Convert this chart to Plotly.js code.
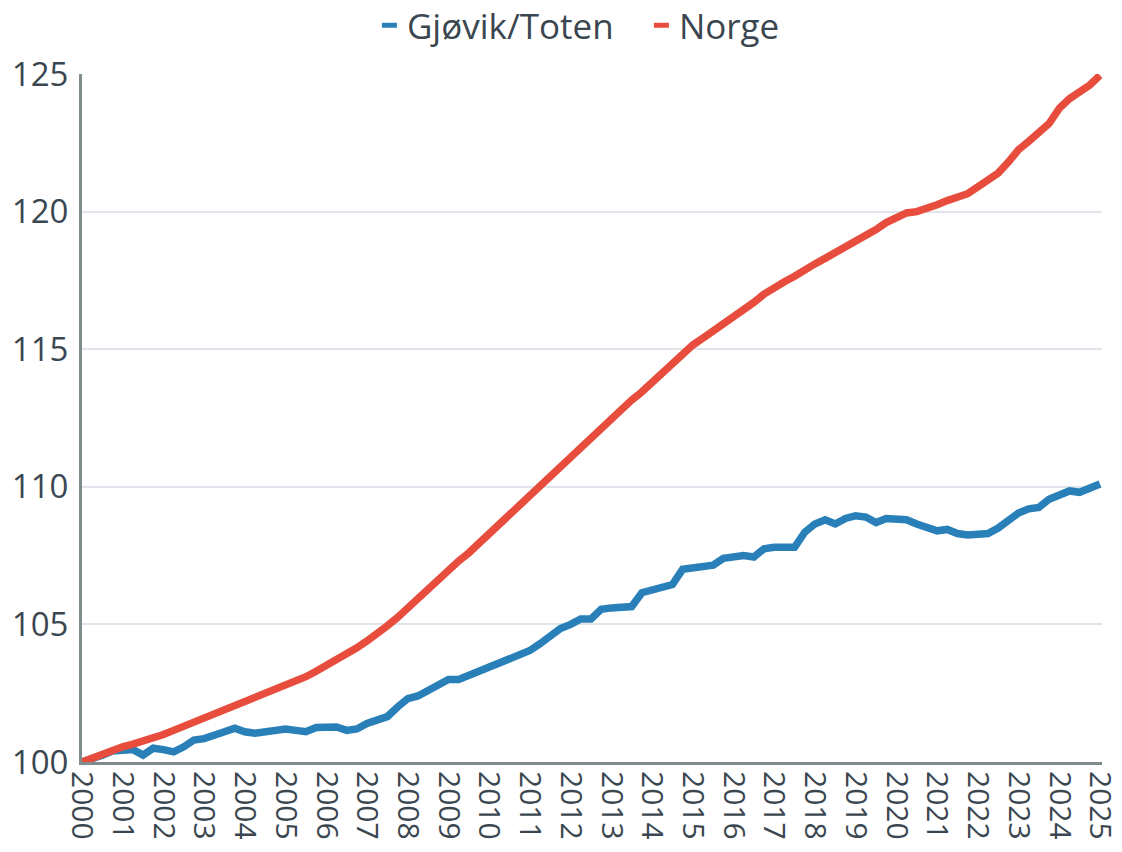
<!DOCTYPE html>
<html>
<head>
<meta charset="utf-8">
<script src="https://cdn.plot.ly/plotly-3.0.1.min.js"></script>
<style>
  html, body { margin: 0; padding: 0; background: #ffffff; }
  #chart { width: 1122px; height: 852px; }
</style>
</head>
<body>
<div id="chart"></div>
<script>
// Quarterly index, 2000 = 100 (2000Q1 .. 2025Q1)
const startYear = 2000;
const endYear = 2025;

const gjovikToten = [
  100.0, 100.1, 100.25, 100.4,
  100.45, 100.45, 100.25, 100.5,
  100.45, 100.37, 100.55, 100.8,
  100.85, 100.95, 101.1, 101.23,
  101.1, 101.05, 101.1, 101.2,
  101.2, 101.15, 101.1, 101.25,
  101.27, 101.27, 101.15, 101.2,
  101.4, 101.55, 101.65, 102.0,
  102.3, 102.4, 102.6, 102.8,
  103.0, 103.0, 103.15, 103.35,
  103.5, 103.6, 103.75, 103.9,
  104.05, 104.3, 104.55, 104.85,
  105.0, 105.2, 105.2, 105.55,
  105.6, 105.6, 105.65, 106.15,
  106.25, 106.35, 106.45, 107.0,
  107.05, 107.15, 107.15, 107.4,
  107.45, 107.5, 107.45, 107.75,
  107.8, 107.8, 107.8, 108.35,
  108.65, 108.8, 108.65, 108.85,
  108.95, 108.9, 108.7, 108.85,
  108.85, 108.8, 108.65, 108.5,
  108.4, 108.45, 108.3, 108.25,
  108.25, 108.3, 108.5, 108.8,
  109.05, 109.2, 109.25, 109.55,
  109.7, 109.85, 109.8, 109.95,
  110.1
];

const norge = [
  100.0, 100.15, 100.3, 100.45,
  100.55, 100.65, 100.75, 100.9,
  101.0, 101.15, 101.3, 101.45,
  101.6, 101.75, 101.9, 102.05,
  102.15, 102.3, 102.45, 102.6,
  102.75, 102.9, 103.1, 103.3,
  103.5, 103.7, 103.95, 104.15,
  104.4, 104.65, 104.95, 105.25,
  105.6, 105.95, 106.3, 106.65,
  107.0, 107.3, 107.6, 107.95,
  108.25, 108.6, 108.95, 109.3,
  109.65, 110.0, 110.35, 110.75,
  111.1, 111.45, 111.8, 112.15,
  112.5, 112.8, 113.15, 113.45,
  113.8, 114.15, 114.45, 114.8,
  115.15, 115.4, 115.65, 115.95,
  116.2, 116.45, 116.7, 117.0,
  117.25, 117.45, 117.65, 117.9,
  118.1, 118.3, 118.5, 118.75,
  118.95, 119.15, 119.35, 119.6,
  119.8, 119.95, 120.0, 120.1,
  120.25, 120.4, 120.55, 120.65,
  120.9, 121.15, 121.4, 121.8,
  122.25, 122.55, 122.9, 123.2,
  123.75, 124.1, 124.35, 124.6,
  124.95
];

const seriesNames = ["Gjøvik/Toten", "Norge"];
const tickYears = [];
for (let y = startYear; y <= endYear; y++) tickYears.push(y);
const tickLabels = tickYears.map(String);
const yTicks = [100, 105, 110, 115, 120, 125];

const quarters = gjovikToten.map((_, i) => startYear + i * 0.25);

const textColor = "#3a4750";
const fam = "Open Sans, Noto Sans, sans-serif";

const traces = [
  {
    x: quarters, y: gjovikToten, name: seriesNames[0], type: "scatter", mode: "lines",
    line: { color: "#2980b9", width: 7.5 }
  },
  {
    x: quarters, y: norge, name: seriesNames[1], type: "scatter", mode: "lines",
    line: { color: "#e74c3c", width: 7.5 }
  }
];

const layout = {
  width: 1122, height: 852,
  margin: { l: 82, r: 20, t: 74, b: 90 },
  paper_bgcolor: "#ffffff", plot_bgcolor: "#ffffff",
  font: { family: fam, size: 32, color: textColor },
  showlegend: true,
  legend: {
    orientation: "h", xref: "container", x: 0.327, xanchor: "left",
    yref: "container", y: 1.0, yanchor: "top",
    font: { family: fam, size: 35, color: textColor },
    itemwidth: 30, entrywidth: 227, entrywidthmode: "pixels",
    bgcolor: "rgba(0,0,0,0)"
  },
  xaxis: {
    range: [startYear, endYear + 0.05],
    tickmode: "array", tickvals: tickYears, ticktext: tickLabels,
    tickangle: 90, showgrid: false, zeroline: false,
    showline: true, linecolor: "#7f8c8d", linewidth: 3,
    ticks: "", ticklabeloverflow: "allow",
    tickfont: { family: fam, size: 30, color: textColor },
    fixedrange: true
  },
  yaxis: {
    range: [100, 125], tickmode: "array", tickvals: yTicks,
    showgrid: true, gridcolor: "#dfe5ea", gridwidth: 2, zeroline: false,
    showline: true, linecolor: "#7f8c8d", linewidth: 3,
    ticks: "", ticklabelstandoff: 4,
    tickfont: { family: fam, size: 33, color: textColor },
    fixedrange: true
  }
};

Plotly.newPlot("chart", traces, layout, { displayModeBar: false, staticPlot: true }).then(function (gd) {
  // shorten legend line symbols to a small dash next to the text
  gd.querySelectorAll(".legend .legendlines path").forEach(function (p) {
    p.setAttribute("d", "M15,0h15");
    p.style.strokeWidth = "5px";
  });
  // nudge the legend up a little
  const leg = gd.querySelector("g.legend");
  if (leg) {
    const t = leg.getAttribute("transform") || "";
    const m = t.match(/translate\(\s*([-\d.]+)[ ,]+([-\d.]+)\s*\)/);
    if (m) leg.setAttribute("transform", "translate(" + m[1] + "," + (parseFloat(m[2]) - 4) + ")");
  }
});
</script>
</body>
</html>
